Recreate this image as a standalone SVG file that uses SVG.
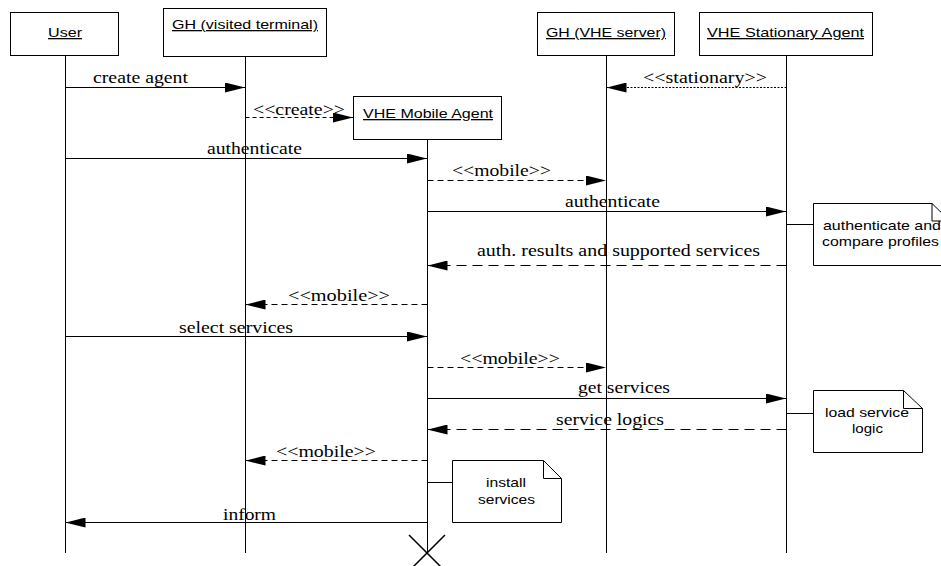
<svg xmlns="http://www.w3.org/2000/svg" width="941" height="566" viewBox="0 0 941 566">
<style>
.box{fill:#fff;stroke:#000;stroke-width:1}
.life{stroke:#000;stroke-width:1;fill:none}
.hd{font-family:"Liberation Sans",Arial,sans-serif;font-size:13px;text-decoration:underline;fill:#000}
.nt{font-family:"Liberation Sans",Arial,sans-serif;font-size:13px;fill:#000}
.lb{font-family:"Liberation Serif","Times New Roman",serif;font-size:16px;fill:#000}
.msg{stroke:#000;stroke-width:1;fill:none}
.dash{stroke-dasharray:6,4}
.ldash{stroke-dasharray:10,6}
.dot{stroke-dasharray:2,1.5}
</style>
<defs>
<marker id="ah" markerUnits="userSpaceOnUse" markerWidth="20" markerHeight="10" refX="20" refY="5" orient="auto">
<path d="M0,0 L20,5 L0,10 Z" fill="#000"/>
</marker>
</defs>
<rect width="941" height="566" fill="#fff"/>

<g id="user">
<rect class="box" x="10.5" y="12.5" width="108" height="43"/>
<text class="hd" x="65" y="37" text-anchor="middle" textLength="34" lengthAdjust="spacingAndGlyphs">User</text>
<line class="life" x1="65.5" y1="55.5" x2="65.5" y2="553"/>
</g>
<g id="gh-visited">
<rect class="box" x="163.5" y="8.5" width="163" height="48"/>
<text class="hd" x="245" y="29" text-anchor="middle" textLength="146" lengthAdjust="spacingAndGlyphs">GH (visited terminal)</text>
<line class="life" x1="245.5" y1="56.5" x2="245.5" y2="553"/>
</g>
<g id="gh-server">
<rect class="box" x="537.5" y="12.5" width="137" height="43"/>
<text class="hd" x="606" y="37" text-anchor="middle" textLength="120" lengthAdjust="spacingAndGlyphs">GH (VHE server)</text>
<line class="life" x1="606.5" y1="55.5" x2="606.5" y2="553"/>
</g>
<g id="stationary">
<rect class="box" x="699.5" y="12.5" width="173" height="43"/>
<text class="hd" x="785.5" y="37" text-anchor="middle" textLength="157" lengthAdjust="spacingAndGlyphs">VHE Stationary Agent</text>
<line class="life" x1="786.5" y1="55.5" x2="786.5" y2="553"/>
</g>
<g id="mobile">
<rect class="box" x="353.5" y="96.5" width="148" height="43"/>
<text class="hd" x="428" y="118" text-anchor="middle" textLength="130" lengthAdjust="spacingAndGlyphs">VHE Mobile Agent</text>
<line class="life" x1="427.5" y1="139.5" x2="427.5" y2="553" stroke="#333"/>
<path d="M409,535 L445,571 M445,535 L409,571" stroke="#000" stroke-width="1.5" fill="none"/>
</g>

<g id="note-auth">
<path class="box" d="M813.5,203.5 H932 L950,221 V265.5 H813.5 Z"/>
<path d="M932,203.5 V221 H950" fill="none" stroke="#000"/>
<text class="nt" x="823" y="230" textLength="118" lengthAdjust="spacingAndGlyphs">authenticate and</text>
<text class="nt" x="822" y="246" textLength="117" lengthAdjust="spacingAndGlyphs">compare profiles</text>
</g>
<g id="note-load">
<path class="box" d="M813.5,390.5 H903.5 L922.5,408.5 V452.5 H813.5 Z"/>
<path d="M903.5,390.5 V408.5 H922.5" fill="none" stroke="#000"/>
<text class="nt" x="867" y="417" text-anchor="middle" textLength="84" lengthAdjust="spacingAndGlyphs">load service</text>
<text class="nt" x="867.5" y="433" text-anchor="middle" textLength="31" lengthAdjust="spacingAndGlyphs">logic</text>
</g>
<g id="note-install">
<path class="box" d="M452.5,460.5 H543.5 L561.5,478.5 V522.5 H452.5 Z"/>
<path d="M543.5,460.5 V478.5 H561.5" fill="none" stroke="#000"/>
<text class="nt" x="506" y="487" text-anchor="middle" textLength="40" lengthAdjust="spacingAndGlyphs">install</text>
<text class="nt" x="506.5" y="504" text-anchor="middle" textLength="57" lengthAdjust="spacingAndGlyphs">services</text>
</g>

<g id="connectors">
<line class="msg" x1="65.5" y1="87.5" x2="245" y2="87.5" marker-end="url(#ah)"/>
<text class="lb" x="140.5" y="83" text-anchor="middle" textLength="95" lengthAdjust="spacingAndGlyphs">create agent</text>

<line class="msg dash" x1="245.5" y1="117.5" x2="353" y2="117.5" marker-end="url(#ah)" style="stroke-dasharray:4,3"/>
<text class="lb" x="299" y="115" text-anchor="middle" textLength="92" lengthAdjust="spacingAndGlyphs">&lt;&lt;create&gt;&gt;</text>

<line class="msg dot" x1="786.5" y1="87.5" x2="606.5" y2="87.5" marker-end="url(#ah)"/>
<text class="lb" x="705" y="83" text-anchor="middle" textLength="124" lengthAdjust="spacingAndGlyphs">&lt;&lt;stationary&gt;&gt;</text>

<line class="msg" x1="65.5" y1="158.5" x2="427" y2="158.5" marker-end="url(#ah)"/>
<text class="lb" x="254.5" y="154" text-anchor="middle" textLength="95" lengthAdjust="spacingAndGlyphs">authenticate</text>

<line class="msg dash" x1="427.5" y1="180.5" x2="606" y2="180.5" marker-end="url(#ah)"/>
<text class="lb" x="501.5" y="176" text-anchor="middle" textLength="99" lengthAdjust="spacingAndGlyphs">&lt;&lt;mobile&gt;&gt;</text>

<line class="msg" x1="427.5" y1="211.5" x2="786" y2="211.5" marker-end="url(#ah)"/>
<text class="lb" x="612.5" y="207" text-anchor="middle" textLength="95" lengthAdjust="spacingAndGlyphs">authenticate</text>

<line class="msg" x1="786.5" y1="224.5" x2="813.5" y2="224.5"/>

<line class="msg ldash" x1="786.5" y1="265.5" x2="427.5" y2="265.5" marker-end="url(#ah)"/>
<text class="lb" x="618.5" y="256" text-anchor="middle" textLength="283" lengthAdjust="spacingAndGlyphs">auth. results and supported services</text>

<line class="msg dash" x1="427.5" y1="304.5" x2="245.5" y2="304.5" marker-end="url(#ah)"/>
<text class="lb" x="339" y="301" text-anchor="middle" textLength="102" lengthAdjust="spacingAndGlyphs">&lt;&lt;mobile&gt;&gt;</text>

<line class="msg" x1="65.5" y1="336.5" x2="427" y2="336.5" marker-end="url(#ah)"/>
<text class="lb" x="236" y="333" text-anchor="middle" textLength="114" lengthAdjust="spacingAndGlyphs">select services</text>

<line class="msg dash" x1="427.5" y1="367.5" x2="606" y2="367.5" marker-end="url(#ah)"/>
<text class="lb" x="510" y="364" text-anchor="middle" textLength="100" lengthAdjust="spacingAndGlyphs">&lt;&lt;mobile&gt;&gt;</text>

<line class="msg" x1="427.5" y1="398.5" x2="786" y2="398.5" marker-end="url(#ah)"/>
<text class="lb" x="624" y="393" text-anchor="middle" textLength="92" lengthAdjust="spacingAndGlyphs">get services</text>

<line class="msg" x1="786.5" y1="413.5" x2="813.5" y2="413.5"/>

<line class="msg ldash" x1="786.5" y1="429.5" x2="427.5" y2="429.5" marker-end="url(#ah)"/>
<text class="lb" x="610" y="425" text-anchor="middle" textLength="108" lengthAdjust="spacingAndGlyphs">service logics</text>

<line class="msg dash" x1="427.5" y1="460.5" x2="245.5" y2="460.5" marker-end="url(#ah)"/>
<text class="lb" x="326" y="457" text-anchor="middle" textLength="100" lengthAdjust="spacingAndGlyphs">&lt;&lt;mobile&gt;&gt;</text>

<line class="msg" x1="427.5" y1="482.5" x2="452.5" y2="482.5"/>

<line class="msg" x1="427.5" y1="522.5" x2="65.5" y2="522.5" marker-end="url(#ah)"/>
<text class="lb" x="249.5" y="520" text-anchor="middle" textLength="53" lengthAdjust="spacingAndGlyphs">inform</text>
</g>
</svg>
